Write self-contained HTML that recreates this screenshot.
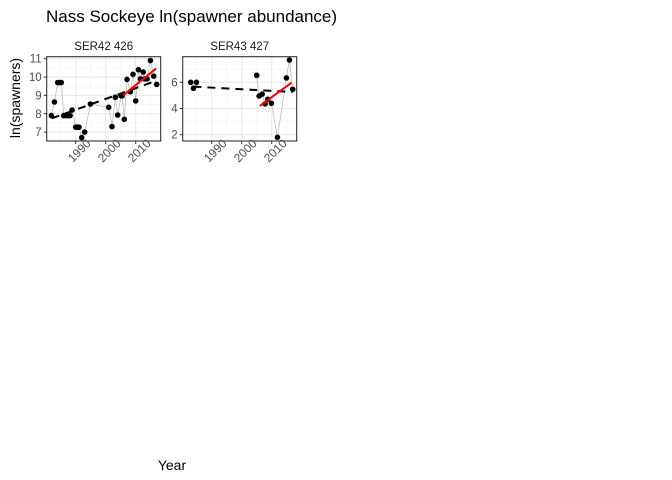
<!DOCTYPE html>
<html><head><meta charset="utf-8"><style>
body{margin:0;background:#fff;}
svg{display:block;font-family:"Liberation Sans",Arial,sans-serif;}
</style></head><body>
<svg id="c" width="672" height="480">
<text x="46" y="22" font-size="17" fill="#000">Nass Sockeye ln(spawner abundance)</text>
<text transform="translate(20,98) rotate(-90)" text-anchor="middle" font-size="14" fill="#000">ln(spawners)</text>
<text x="172" y="470" text-anchor="middle" font-size="14" fill="#000">Year</text>
</svg>
<script>
const xTicks=[1990,2000,2010];
const p1Years=[1981.9,1982.9,1984,1984.7,1985.2,1986,1986.8,1987.5,1988.1,1988.8,1990,1990.7,1991.1,1992,1993,1994.9,2001,2002.1,2003.2,2004,2005.1,2005.5,2006.2,2007.1,2008.2,2009.1,2010,2010.9,2011.6,2012.5,2013,2013.8,2014.9,2016,2017];
const p1Vals=[7.9,8.64,9.7,9.7,9.7,7.9,7.9,7.9,7.9,8.2,7.27,7.27,7.27,6.7,7.0,8.53,8.35,7.3,8.9,7.93,8.98,8.98,7.7,9.87,9.2,10.15,8.7,10.4,9.9,10.27,9.9,9.9,10.9,10.05,9.6];
const p1Trend=[[1982,7.75],[2016,9.75]];
const p1Recent=[[2005.8,9.0],[2016.8,10.47]];
const p1YTicks=[7,8,9,10,11];
const p2Years=[1983,1983.9,1984.9,2005,2005.8,2006.8,2007.8,2008.7,2009.9,2011.9,2014.9,2015.9,2017];
const p2Vals=[6.0,5.54,6.0,6.53,4.95,5.1,4.35,4.7,4.4,1.8,6.33,7.7,5.47];
const p2Trend=[[1983.9,5.67],[2017,5.26]];
const p2Recent=[[2006,4.2],[2016.6,5.97]];
const p2YTicks=[2,4,6];
const NS="http://www.w3.org/2000/svg";
const svg=document.getElementById('c');
function el(t,a,p){const e=document.createElementNS(NS,t);for(const k in a)e.setAttribute(k,a[k]);(p||svg).appendChild(e);return e;}
function panel(cfg){
 const g=el('g',{});
 
 
 const L=cfg.left,R=L+114,T=56.7,B=141;
 const xs=y=>L+(y-1980.33)*3;
 const ys=v=>cfg.y0+(cfg.v0-v)*cfg.k;
 for(let yr=1985;yr<=2015;yr+=10)el('line',{x1:xs(yr),x2:xs(yr),y1:T,y2:B,stroke:'#f2f2f2','stroke-width':0.6},g);
 for(const v of cfg.minor)el('line',{x1:L,x2:R,y1:ys(v),y2:ys(v),stroke:'#f2f2f2','stroke-width':0.6},g);
 for(const t of xTicks)el('line',{x1:xs(t),x2:xs(t),y1:T,y2:B,stroke:'#ebebeb','stroke-width':1.1},g);
 for(const v of cfg.yt)el('line',{x1:L,x2:R,y1:ys(v),y2:ys(v),stroke:'#ebebeb','stroke-width':1.1},g);
 let d='';cfg.years.forEach((yr,i)=>{const brk=i>0&&cfg.gap&&yr-cfg.years[i-1]>cfg.gap;d+=(i===0||brk?'M':'L')+xs(yr)+','+ys(cfg.vals[i]);});
 el('path',{d:d,fill:'none',stroke:'#bdbdbd','stroke-width':0.8},g);
 const tr=el('line',{x1:xs(cfg.trend[0][0]),y1:ys(cfg.trend[0][1]),x2:xs(cfg.trend[1][0]),y2:ys(cfg.trend[1][1]),stroke:'#000','stroke-width':2,'stroke-dasharray':'8,6'},g);
 
 
 cfg.years.forEach((yr,i)=>{const c=el('circle',{cx:xs(yr),cy:ys(cfg.vals[i]),r:2.8,fill:'#000'},g);
  
  });
 const rl=el('line',{x1:xs(cfg.recent[0][0]),y1:ys(cfg.recent[0][1]),x2:xs(cfg.recent[1][0]),y2:ys(cfg.recent[1][1]),stroke:'#ff0000','stroke-width':2},g);
 
 
 el('rect',{x:L,y:T,width:114,height:B-T,fill:'none',stroke:'#333','stroke-width':1.1},g);
 for(const v of cfg.yt){el('line',{x1:L-3,x2:L,y1:ys(v),y2:ys(v),stroke:'#333'},g);
  const t=el('text',{x:L-5,y:ys(v)+4,'text-anchor':'end','font-size':11.5,fill:'#4d4d4d'},g);t.textContent=v;
  
  }
 for(const yr of xTicks){el('line',{x1:xs(yr),x2:xs(yr),y1:B,y2:B+3,stroke:'#333'},g);
  const t=el('text',{transform:`translate(${xs(yr)-3},${B+22}) rotate(-45)`,'text-anchor':'start','font-size':12,fill:'#4d4d4d'},g);t.textContent=yr;
  
  }
 const s=el('text',{x:L+57,y:50,'text-anchor':'middle','font-size':11.5,fill:'#1a1a1a'},g);s.textContent=cfg.title;
 
 
}
panel({name:'panel-ser42',left:46.7,title:'SER42 426',years:p1Years,vals:p1Vals,trend:p1Trend,recent:p1Recent,yt:p1YTicks,minor:[7.5,8.5,9.5,10.5],y0:58.7,v0:11,k:18.35,gap:0});
panel({name:'panel-ser43',left:182.7,title:'SER43 427',years:p2Years,vals:p2Vals,trend:p2Trend,recent:p2Recent,yt:p2YTicks,minor:[3,5,7],y0:82.3,v0:6,k:13.1,gap:10});
</script>
</body></html>
